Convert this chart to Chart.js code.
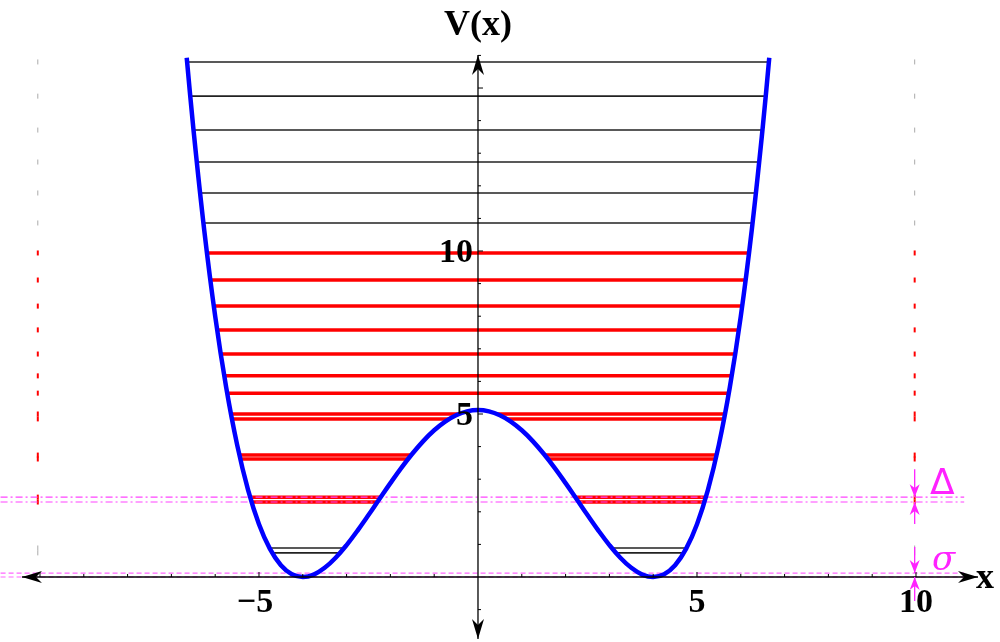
<!DOCTYPE html>
<html><head><meta charset="utf-8">
<script src="https://cdn.jsdelivr.net/npm/chart.js@4"></script>
<style>html,body{margin:0;padding:0;background:#fff}</style>
</head><body>
<canvas id="c" width="1000" height="642"></canvas>
<script>
// Potential curve V(x)
const curveX = [-6.65,-6.5,-6.25,-6,-5.75,-5.5,-5.25,-5,-4.75,-4.5,-4.25,-4,-3.75,-3.5,-3.25,-3,-2.75,-2.5,-2.25,-2,-1.75,-1.5,-1.25,-1,-0.75,-0.5,-0.25,0,0.25,0.5,0.75,1,1.25,1.5,1.75,2,2.25,2.5,2.75,3,3.25,3.5,3.75,4,4.25,4.5,4.75,5,5.25,5.5,5.75,6,6.25,6.5,6.65];
const curveV = [15.93,13.78,10.64,8.0,5.823,4.061,2.674,1.62,0.861,0.361,0.085,0,0.075,0.281,0.591,0.98,1.424,1.901,2.393,2.88,3.348,3.781,4.169,4.5,4.766,4.961,5.08,5.12,5.08,4.961,4.766,4.5,4.169,3.781,3.348,2.88,2.393,1.901,1.424,0.98,0.591,0.281,0.075,0,0.085,0.361,0.861,1.62,2.674,4.061,5.823,8.0,10.64,13.78,15.93];
// Energy levels: value, outer turning point, inner turning point (0 = crosses barrier), colour group
const levelE     = [15.80,14.75,13.71,12.73,11.78,10.86,9.94,9.11,8.31,7.58,6.84,6.17,5.64,5.00,4.85,3.74,3.62,2.45,2.30,0.89,0.74];
const levelOuter = [6.64,6.57,6.49,6.42,6.35,6.27,6.19,6.11,6.03,5.96,5.87,5.79,5.73,5.64,5.62,5.45,5.43,5.20,5.17,4.76,4.70];
const levelInner = [0,0,0,0,0,0,0,0,0,0,0,0,0,0.43,0.66,1.53,1.60,2.22,2.30,3.05,3.15];
const levelRed   = [0,0,0,0,0,0,1,1,1,1,1,1,1,1,1,1,1,1,1,0,0];
// Reference lines
const dashDotE = [2.45,2.30];
const dashedE = [0.12,0.0];
// Tick labels
const xTickLabels = [-5,5,10];
const yTickLabels = [5,10];

const datasets = [];
datasets.push({data: curveX.map((x,i)=>({x, y: curveV[i]})), borderColor:'#0000ff', borderWidth:4.5, pointRadius:0, tension:0.4, order:0});
levelE.forEach((E,i)=>{
  const col = levelRed[i] ? '#ff0000' : '#222222';
  const w = levelRed[i] ? 3.5 : 1.6;
  const segs = levelInner[i] ? [[-levelOuter[i],-levelInner[i]],[levelInner[i],levelOuter[i]]] : [[-levelOuter[i],levelOuter[i]]];
  segs.forEach(s=>datasets.push({data:[{x:s[0],y:E},{x:s[1],y:E}], borderColor:col, borderWidth:w, pointRadius:0, order:2}));
  datasets.push({data:[{x:-10.05,y:E},{x:9.97,y:E}], showLine:false, pointStyle:'line', rotation:90, pointRadius:2.5, borderWidth:levelRed[i]?2:1, pointBorderColor:levelRed[i]?'#ff0000':'#aaaaaa', order:3});
});
dashDotE.forEach(E=>datasets.push({data:[{x:-10.9,y:E},{x:11.1,y:E}], borderColor:'#ff44ff', borderWidth:1.2, borderDash:[7,3,2,3], pointRadius:0, order:1}));
dashedE.forEach(E=>datasets.push({data:[{x:-10.9,y:E},{x:11.1,y:E}], borderColor:'#ff66ff', borderWidth:1.2, borderDash:[5,3], pointRadius:0, order:1}));

function arrow(ctx, x1,y1,x2,y2, col, hl, hw){
  ctx.strokeStyle=col; ctx.fillStyle=col;
  ctx.beginPath(); ctx.moveTo(x1,y1); ctx.lineTo(x2,y2); ctx.stroke();
  const a=Math.atan2(y2-y1,x2-x1);
  ctx.beginPath(); ctx.moveTo(x2,y2);
  ctx.lineTo(x2-hl*Math.cos(a)+hw*Math.sin(a), y2-hl*Math.sin(a)-hw*Math.cos(a));
  ctx.lineTo(x2-hl*0.7*Math.cos(a), y2-hl*0.7*Math.sin(a));
  ctx.lineTo(x2-hl*Math.cos(a)-hw*Math.sin(a), y2-hl*Math.sin(a)+hw*Math.cos(a));
  ctx.closePath(); ctx.fill();
}
const axesPlugin = {id:'axes', afterDatasetsDraw(chart){
  const ctx=chart.ctx, xs=chart.scales.x, ys=chart.scales.y;
  const X=v=>xs.getPixelForValue(v), Y=v=>ys.getPixelForValue(v);
  ctx.save(); ctx.lineWidth=1.3;
  const x0=X(0), y0=Y(0);
  arrow(ctx, 500, y0, 978, y0, '#000', 20, 6);
  arrow(ctx, 500, y0, 22, y0, '#000', 20, 6);
  arrow(ctx, x0, 300, x0, 55, '#000', 20, 6);
  arrow(ctx, x0, 300, x0, 639, '#000', 20, 6);
  ctx.lineWidth=1;
  for(let v=-10; v<=10; v++){ if(!v) continue; ctx.beginPath(); ctx.moveTo(X(v),y0); ctx.lineTo(X(v),y0-(v%5?3:5)); ctx.stroke(); }
  for(let v=-1; v<=16; v++){ if(!v) continue; ctx.beginPath(); ctx.moveTo(x0,Y(v)); ctx.lineTo(x0+(v%5?3:5),Y(v)); ctx.stroke(); }
  ctx.font='bold 34px "Liberation Serif"'; ctx.fillStyle='#000';
  ctx.textAlign='center'; ctx.textBaseline='top';
  xTickLabels.forEach(v=>ctx.fillText(v<0?'\u2212'+(-v):String(v), X(v)+(v<0?-4:0), y0+9));
  ctx.textAlign='right'; ctx.textBaseline='middle';
  yTickLabels.forEach(v=>ctx.fillText(String(v), x0-5, Y(v)+2));
  ctx.textAlign='center'; ctx.font='bold 36px "Liberation Serif"';
  ctx.fillText('V(x)', x0, 26);
  ctx.fillText('x', 985, y0+2);
  // Delta / sigma arrows
  const ax=X(9.97), mg='#ff22ff'; ctx.lineWidth=1.3;
  arrow(ctx, ax, Y(dashDotE[0])-28, ax, Y(dashDotE[0]), mg, 13, 5);
  arrow(ctx, ax, Y(dashDotE[1])+22, ax, Y(dashDotE[1]), mg, 13, 5);
  arrow(ctx, ax, Y(dashedE[0])-26, ax, Y(dashedE[0]), mg, 13, 5);
  arrow(ctx, ax, Y(dashedE[1])+24, ax, Y(dashedE[1]), mg, 13, 5);
  ctx.fillStyle=mg; ctx.font='36px "DejaVu Sans"'; ctx.textAlign='left';
  ctx.fillText('\u0394', 930, Y(dashDotE[0])-12);
  ctx.font='italic 34px "DejaVu Serif"';
  ctx.fillText('\u03c3', 932, Y(dashedE[0])-12);
  ctx.restore();
}};
new Chart(document.getElementById('c'), {
  type:'line', data:{datasets},
  options:{responsive:false, animation:false, devicePixelRatio:1,
    layout:{padding:0, autoPadding:false},
    plugins:{legend:{display:false}, tooltip:{enabled:false}},
    scales:{x:{type:'linear', min:-10.913, max:11.918, display:false},
            y:{type:'linear', min:-1.994, max:17.70, display:false}}},
  plugins:[axesPlugin]
});
</script>
</body></html>
